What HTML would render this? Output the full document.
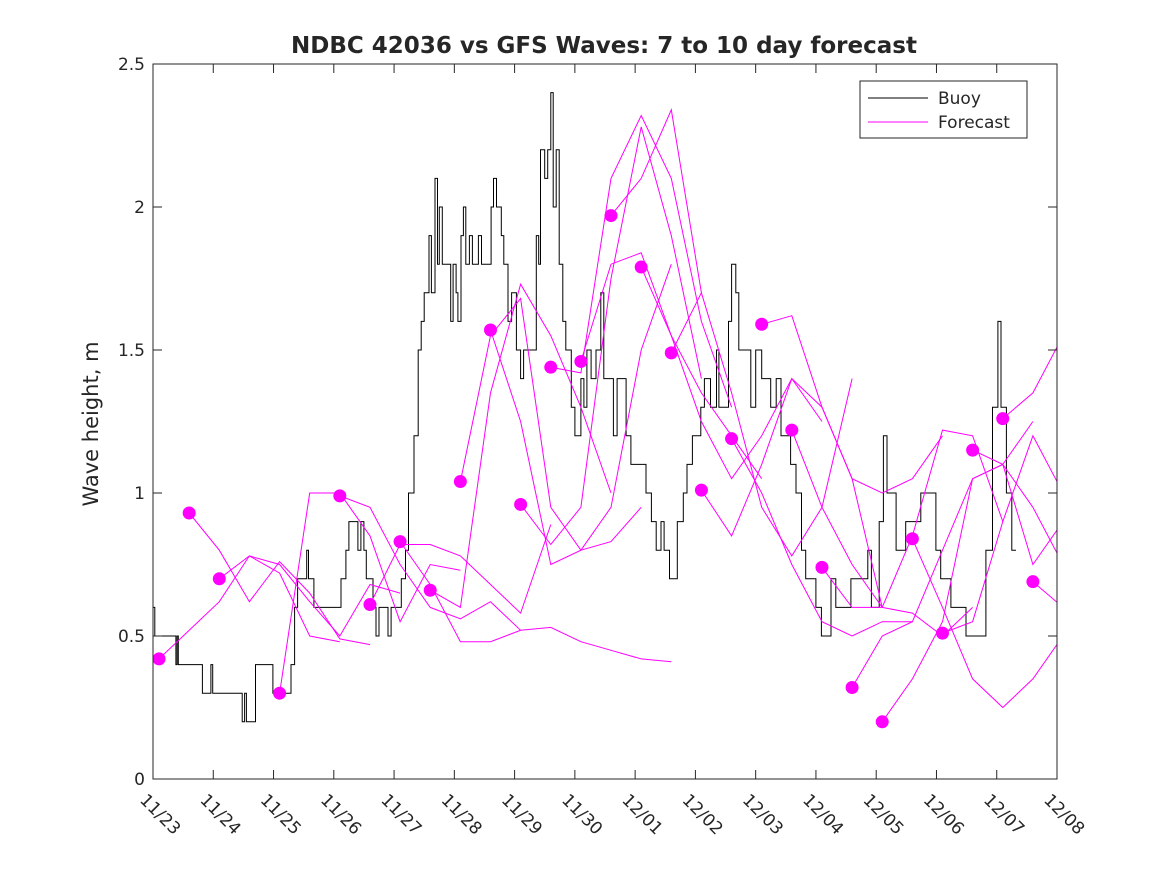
<!DOCTYPE html>
<html><head><meta charset="utf-8"><style>
body{margin:0;background:#fff}
text{font-family:"DejaVu Sans","Liberation Sans",sans-serif;fill:#262626}
</style></head><body>
<svg id="chart" width="1167" height="875" xmlns="http://www.w3.org/2000/svg">
<defs><clipPath id="clip"><rect x="153" y="64" width="904" height="715"/></clipPath></defs>
<rect width="1167" height="875" fill="#fff"/>
<g id="plot" clip-path="url(#clip)"></g>
<g id="axes"></g>
</svg>
<script>
const xLabels=["11/23","11/24","11/25","11/26","11/27","11/28","11/29","11/30","12/01","12/02","12/03","12/04","12/05","12/06","12/07","12/08"];
const yTicks=[0,0.5,1,1.5,2,2.5];
const buoyT=[0,0.03,0.38,0.40,0.42,0.79,0.82,0.96,0.99,1.46,1.48,1.52,1.55,1.70,1.99,2.29,2.35,2.40,2.55,2.58,2.67,3.12,3.2,3.25,3.4,3.45,3.5,3.54,3.65,3.70,3.75,3.9,3.95,4.12,4.19,4.24,4.33,4.40,4.45,4.50,4.58,4.62,4.68,4.72,4.75,4.80,4.94,4.98,5.03,5.06,5.11,5.15,5.19,5.25,5.30,5.4,5.45,5.61,5.65,5.70,5.78,5.82,5.89,5.95,6.03,6.1,6.15,6.36,6.40,6.43,6.50,6.55,6.60,6.64,6.69,6.74,6.80,6.85,6.94,7.0,7.10,7.15,7.2,7.27,7.35,7.43,7.48,7.64,7.70,7.85,7.93,8.18,8.27,8.35,8.43,8.48,8.57,8.70,8.80,8.86,8.95,9.09,9.15,9.25,9.35,9.39,9.55,9.60,9.67,9.72,9.92,10.0,10.1,10.25,10.34,10.42,10.58,10.67,10.76,10.83,11.00,11.09,11.25,11.33,11.58,11.86,11.92,12.05,12.12,12.18,12.33,12.49,12.74,12.99,13.07,13.24,13.49,13.82,13.93,14.02,14.07,14.16,14.25,14.32];
const buoyV=[0.6,0.5,0.4,0.5,0.4,0.4,0.3,0.4,0.3,0.3,0.2,0.3,0.2,0.4,0.3,0.4,0.6,0.7,0.8,0.7,0.6,0.7,0.8,0.9,0.8,0.9,0.8,0.7,0.6,0.5,0.6,0.5,0.6,0.7,0.8,1.0,1.2,1.5,1.6,1.7,1.9,1.7,2.1,1.8,2.0,1.8,1.6,1.8,1.7,1.6,1.9,2.0,1.8,1.9,1.8,1.9,1.8,2.0,2.1,2.0,1.9,1.8,1.6,1.7,1.5,1.4,1.5,1.9,1.8,2.2,2.1,2.2,2.4,2.0,2.2,1.8,1.6,1.5,1.3,1.2,1.4,1.3,1.5,1.4,1.5,1.7,1.4,1.2,1.4,1.2,1.1,1.0,0.9,0.8,0.9,0.8,0.7,0.9,1.0,1.1,1.2,1.3,1.4,1.3,1.5,1.3,1.6,1.8,1.7,1.5,1.3,1.5,1.4,1.3,1.4,1.2,1.1,1.0,0.8,0.7,0.6,0.5,0.7,0.6,0.7,0.8,0.6,0.9,1.2,1.0,0.8,0.9,1.0,0.8,0.7,0.6,0.5,0.8,1.3,1.6,1.3,1.0,0.8,0.8];
const fcStart=[0.1,0.6,1.1,2.1,3.1,3.6,4.1,4.6,5.1,5.6,6.1,6.6,7.1,7.6,8.1,8.6,9.1,9.6,10.1,10.6,11.1,11.6,12.1,12.6,13.1,13.6,14.1,14.6];
const fcVals=[
[0.42,0.52,0.62,0.78,0.72,0.50,0.48],
[0.93,0.80,0.62,0.76,0.65,0.49,0.47],
[0.70,0.78,0.75,0.62,0.50,0.68,0.65],
[0.30,1.00,1.00,0.85,0.55,0.75,0.73],
[0.99,0.95,0.75,0.60,0.56,0.62,0.52],
[0.61,0.82,0.82,0.78,0.68,0.58,0.89],
[0.83,0.68,0.48,0.48,0.52,0.53,0.48,0.45,0.42,0.41],
[0.66,0.60,1.35,1.73,1.55,1.30,1.00],
[1.04,1.55,1.68,0.95,0.80,0.83,0.95],
[1.57,1.25,0.75,0.80,0.95,1.50,1.80],
[0.96,0.82,0.95,1.75,2.28,1.90,1.40],
[1.44,1.42,2.10,2.32,2.10,1.60,1.30],
[1.46,1.80,1.84,1.55,1.35,1.20,1.05],
[1.97,2.10,2.34,1.70],
[1.79,1.55,1.25,1.05,1.20,1.40,1.25],
[1.49,1.70,1.35,0.95,0.78,0.95,1.40],
[1.01,0.85,1.10,1.40,1.30,1.05,0.60],
[1.19,1.00,0.75,0.55,0.50,0.55,0.55],
[1.59,1.62,1.30,1.05,1.00,1.05,1.20],
[1.22,0.95,0.75,0.60,0.58,0.50,0.60],
[0.74,0.60,0.60,0.85,1.22,1.20,0.90],
[0.32,0.50,0.55,0.80,1.05,1.10,1.25],
[0.20,0.35,0.55,1.05,1.10,0.95,0.75],
[0.84,0.60,0.35,0.25,0.35,0.50,0.55],
[0.51,0.55,0.90,1.20,1.00,0.85,0.85],
[1.15,1.10,0.75,0.90,0.95,1.35,1.60],
[1.26,1.35,1.55,1.90,1.70,1.50],
[0.69,0.60,0.55]];
const NS="http://www.w3.org/2000/svg";
const X0=153,X1=1057,Y0=779,Y1=64;
function sx(t){return X0+(X1-X0)*t/15;}
function sy(v){return Y0-(Y0-Y1)*v/2.5;}
function mk(tag,attrs,parent){const e=document.createElementNS(NS,tag);for(const k in attrs)e.setAttribute(k,attrs[k]);parent.appendChild(e);return e;}
const plot=document.getElementById('plot'),axes=document.getElementById('axes');
let d="M"+sx(buoyT[0])+","+sy(buoyV[0]);
for(let i=1;i<buoyT.length;i++){d+="H"+sx(buoyT[i]).toFixed(1)+"V"+sy(buoyV[i]).toFixed(1);}
const bl=mk('path',{d:d,fill:'none',stroke:'#000','stroke-width':1},plot);


for(let i=0;i<fcStart.length;i++){
  const pts=fcVals[i].map((v,j)=>sx(fcStart[i]+0.5*j).toFixed(1)+","+sy(v).toFixed(1)).join(" ");
  const l=mk('polyline',{points:pts,fill:'none',stroke:'#ff00ff','stroke-width':1},plot);
  
  
}
for(let i=0;i<fcStart.length;i++){
  const c=mk('circle',{cx:sx(fcStart[i]),cy:sy(fcVals[i][0]),r:6.5,fill:'#ff00ff'},plot);
  
  
}
const box=mk('rect',{x:X0,y:Y1,width:X1-X0,height:Y0-Y1,fill:'none',stroke:'#262626','stroke-width':1},axes);


xLabels.forEach((s,i)=>{
  const x=sx(i);
  mk('line',{x1:x,y1:Y0,x2:x,y2:Y0-9,stroke:'#262626'},axes);
  mk('line',{x1:x,y1:Y1,x2:x,y2:Y1+9,stroke:'#262626'},axes);
  const t=mk('text',{x:x-14,y:Y0+22,'font-size':17,transform:`rotate(45 ${x-14} ${Y0+22})`},axes);
  t.textContent=s;
  
  
});
yTicks.forEach(v=>{
  const y=sy(v);
  mk('line',{x1:X0,y1:y,x2:X0+9,y2:y,stroke:'#262626'},axes);
  mk('line',{x1:X1,y1:y,x2:X1-9,y2:y,stroke:'#262626'},axes);
  const t=mk('text',{x:X0-8,y:y+6,'font-size':17,'text-anchor':'end'},axes);
  t.textContent=v;
  
  
});
</script>
<svg style="position:absolute;left:0;top:0" width="1167" height="875" xmlns="http://www.w3.org/2000/svg">
<text x="604" y="53" font-size="23" font-weight="bold" text-anchor="middle" fill="#000">NDBC 42036 vs GFS Waves: 7 to 10 day forecast</text>
<text x="98" y="424" font-size="21" text-anchor="middle" transform="rotate(-90 98 424)">Wave height, m</text>
<g>
<rect x="860" y="81" width="167" height="57" fill="#fff" stroke="#262626"/>
<line x1="868" y1="98" x2="928" y2="98" stroke="#000"/>
<text x="938" y="104" font-size="17">Buoy</text>
<line x1="868" y1="122" x2="928" y2="122" stroke="#ff00ff"/>
<text x="938" y="128" font-size="17">Forecast</text>
</g>
</svg>
</body></html>
